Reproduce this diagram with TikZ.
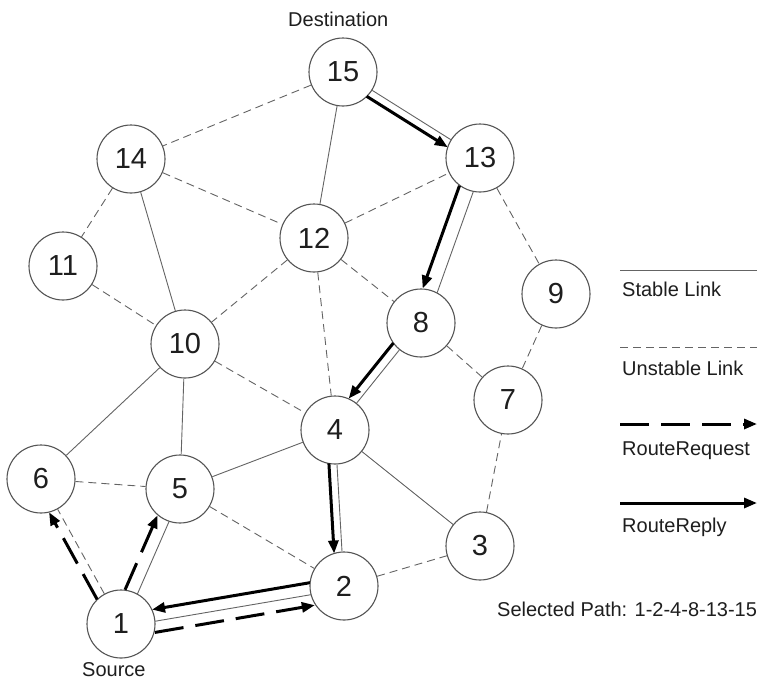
\documentclass[tikz,border=0pt]{standalone}
\usepackage{fontspec}
\setmainfont{Liberation Sans}
\usetikzlibrary{arrows.meta,calc}
\definecolor{linkgray}{RGB}{100,100,100}
\definecolor{ringgray}{RGB}{85,85,85}
\definecolor{inkgray}{RGB}{30,30,30}
% link drawn parallel to the centre line, #4 = sideways offset (positive: right of travel)
\newcommand\sidelink[5]{%
  \draw[#1,shorten <=#5,shorten >=#5] ($(#2)!#4!-90:(#3)$) -- ($(#3)!#4!90:(#2)$);}
\begin{document}
\begin{tikzpicture}[x=1pt,y=-1pt,
  station/.style={circle,draw=ringgray,line width=1.1pt,fill=white,minimum size=68pt,
    inner sep=0pt,text=inkgray,font=\fontsize{29}{29}\selectfont},
  stable/.style={draw=linkgray,line width=0.9pt},
  unstable/.style={draw=linkgray,line width=0.9pt,dash pattern=on 8pt off 5pt},
  reply/.style={draw=black,line width=3pt,-{Triangle[length=13pt,width=10pt]}},
  request/.style={reply,dash pattern=on 29pt off 12pt},
  lbl/.style={font=\fontsize{20}{20}\selectfont,inner sep=0pt,anchor=base west,text=inkgray}]
\useasboundingbox (0,0) rectangle (757,686);
\fill[white] (0,0) rectangle (757,686);

% stations
\node[station] (n15) at (343,72)  {15};
\node[station] (n13) at (480,158) {13};
\node[station] (n14) at (131,159) {14};
\node[station] (n12) at (314,238) {12};
\node[station] (n11) at (63,266)  {11};
\node[station] (n9)  at (556,294) {9};
\node[station] (n8)  at (421,323) {8};
\node[station] (n10) at (185,344) {10};
\node[station] (n7)  at (508,400) {7};
\node[station] (n4)  at (335,430) {4};
\node[station] (n6)  at (41,479)  {6};
\node[station] (n5)  at (180,489) {5};
\node[station] (n3)  at (480,546) {3};
\node[station] (n2)  at (344,586) {2};
\node[station] (n1)  at (121,624) {1};

% stable links
\draw[stable] (n15) -- (n12);
\draw[stable] (n14) -- (n10);
\draw[stable] (n10) -- (n5);
\draw[stable] (n10) -- (n6);
\draw[stable] (n5) -- (n4);
\draw[stable] (n4) -- (n3);
\draw[stable] (n15) -- (n13);
\sidelink{stable}{n13}{n8}{-5pt}{34pt}
\draw[stable] (n8) -- (n4);
\draw[stable] (n4) -- (n2);
\sidelink{stable}{n2}{n1}{-3pt}{34pt}
\sidelink{stable}{n1}{n5}{3pt}{34pt}

% unstable links
\draw[unstable] (n15) -- (n14);
\draw[unstable] (n14) -- (n12);
\draw[unstable] (n14) -- (n11);
\draw[unstable] (n11) -- (n10);
\draw[unstable] (n12) -- (n13);
\draw[unstable] (n12) -- (n10);
\draw[unstable] (n12) -- (n4);
\draw[unstable] (n12) -- (n8);
\draw[unstable] (n13) -- (n9);
\draw[unstable] (n9) -- (n7);
\draw[unstable] (n8) -- (n7);
\draw[unstable] (n10) -- (n4);
\draw[unstable] (n6) -- (n5);
\draw[unstable] (n5) -- (n2);
\draw[unstable] (n2) -- (n3);
\draw[unstable] (n3) -- (n7);
\draw[unstable] (n1) -- (n6);

% route reply
\sidelink{reply}{n15}{n13}{8pt}{33pt}
\sidelink{reply}{n13}{n8}{10pt}{33pt}
\sidelink{reply}{n8}{n4}{9pt}{33pt}
\sidelink{reply}{n4}{n2}{8pt}{33pt}
\sidelink{reply}{n2}{n1}{9pt}{33pt}

% route request
\sidelink{request}{n1}{n2}{14pt}{32pt}
\sidelink{request}{n1}{n5}{-10pt}{33pt}
\sidelink{request}{n1}{n6}{-9pt}{33pt}

% labels
\node[lbl] (dest) at (288,26) {Destination};
\node[lbl] (src) at (82,676) {Source};
\node[lbl] (sel) at (497,616) {Selected Path: 1-2-4-8-13-15};

% legend
\coordinate (ka0) at (620,270); \coordinate (ka1) at (757,270);
\coordinate (kb0) at (620,347); \coordinate (kb1) at (757,347);
\coordinate (kc0) at (620,424); \coordinate (kc1) at (757,424);
\coordinate (kd0) at (620,503); \coordinate (kd1) at (757,503);
\draw[stable] (ka0) -- (ka1);
\draw[unstable] (kb0) -- (kb1);
\draw[request] (kc0) -- (kc1);
\draw[reply] (kd0) -- (kd1);
\node[lbl] (ta) at (622,296) {Stable Link};
\node[lbl] (tb) at (622,375) {Unstable Link};
\node[lbl] (tc) at (622,455) {RouteRequest};
\node[lbl] (td) at (622,532) {RouteReply};
\end{tikzpicture}
\end{document}
